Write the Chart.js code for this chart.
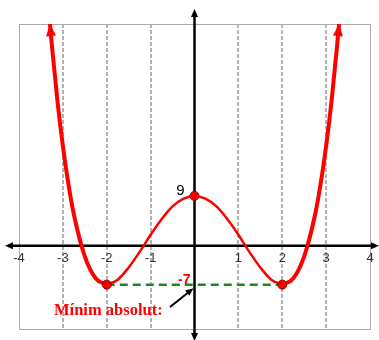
<!DOCTYPE html>
<html>
<head>
<meta charset="utf-8">
<script src="https://cdn.jsdelivr.net/npm/chart.js@4/dist/chart.umd.min.js"></script>
<style>
  html, body { margin: 0; padding: 0; background: #fff; }
  canvas { display: block; }
</style>
</head>
<body>
<canvas id="c" width="379" height="340"></canvas>
<script>
// f(x) = x^4 - 8x^2 + 9, sampled along the plotted curve
const leftX  = [-3.295, -3.25, -3.125, -3, -2.875, -2.75, -2.5, -2.25, -2];
const leftY  = [40, 36.1, 26.2, 18, 11.2, 5.7, -1.9, -5.9, -7];
const midX   = [-2, -1.75, -1.5, -1.25, -1, -0.75, -0.5, -0.25, 0, 0.25, 0.5, 0.75, 1, 1.25, 1.5, 1.75, 2];
const midY   = [-7, -6.1, -3.9, -1.1, 2, 4.8, 7.1, 8.5, 9, 8.5, 7.1, 4.8, 2, -1.1, -3.9, -6.1, -7];
const rightX = [2, 2.25, 2.5, 2.75, 2.875, 3, 3.125, 3.25, 3.295];
const rightY = [-7, -5.9, -1.9, 5.7, 11.2, 18, 26.2, 36.1, 40];

// marked points: local maximum and the two absolute minima
const keyX = [-2, 0, 2];
const keyY = [-7, 9, -7];

// horizontal guide at the minimum value
const minGuideX = [-2, 2];
const minGuideY = [-7, -7];

const xTickValues = [-4, -3, -2, -1, 1, 2, 3, 4];
const xTickLabels = ['-4', '-3', '-2', '-1', '1', '2', '3', '4'];
const gridValues  = [-3, -2, -1, 1, 2, 3];

const maxLabel = '9';
const minValueLabel = '-7';
const minCaption = 'Mínim absolut:';

const pts = (xs, ys) => xs.map((x, i) => ({ x: x, y: ys[i] }));

function arrowHead(ctx, tipX, tipY, fromX, fromY, len, half, color) {
  const a = Math.atan2(tipY - fromY, tipX - fromX);
  ctx.save();
  ctx.fillStyle = color;
  ctx.beginPath();
  ctx.moveTo(tipX, tipY);
  ctx.lineTo(tipX - len * Math.cos(a) + half * Math.sin(a), tipY - len * Math.sin(a) - half * Math.cos(a));
  ctx.lineTo(tipX - len * Math.cos(a) - half * Math.sin(a), tipY - len * Math.sin(a) + half * Math.cos(a));
  ctx.closePath();
  ctx.fill();
  ctx.restore();
}

const overlay = {
  id: 'overlay',
  beforeDatasetsDraw(chart) {
    const ctx = chart.ctx;
    const xs = chart.scales.x, ys = chart.scales.y;
    const a = chart.chartArea;
    ctx.save();

    // dashed vertical grid
    ctx.strokeStyle = '#999';
    ctx.lineWidth = 1.5;
    ctx.setLineDash([4, 2]);
    gridValues.forEach(v => {
      const px = Math.round(xs.getPixelForValue(v));
      ctx.beginPath();
      ctx.moveTo(px, a.top);
      ctx.lineTo(px, a.bottom);
      ctx.stroke();
    });
    ctx.setLineDash([]);

    // frame
    ctx.strokeStyle = '#aaa';
    ctx.lineWidth = 1;
    ctx.strokeRect(Math.round(a.left) + 0.5, Math.round(a.top) + 0.5,
                   Math.round(a.right - a.left), Math.round(a.bottom - a.top));

    // coordinate axes
    const x0 = xs.getPixelForValue(0);
    const y0 = ys.getPixelForValue(0);
    ctx.strokeStyle = '#000';
    ctx.lineWidth = 2.5;
    ctx.beginPath();
    ctx.moveTo(10, y0);
    ctx.lineTo(374, y0);
    ctx.stroke();
    ctx.beginPath();
    ctx.moveTo(x0, 16);
    ctx.lineTo(x0, 334);
    ctx.stroke();
    arrowHead(ctx, 5, y0, 20, y0, 8, 3.5, '#000');
    arrowHead(ctx, 379, y0, 360, y0, 8, 3.5, '#000');
    arrowHead(ctx, x0, 9, x0, 30, 8, 3.5, '#000');
    arrowHead(ctx, x0, 341, x0, 320, 8, 3.5, '#000');

    // x tick labels under the axis
    ctx.fillStyle = '#333';
    ctx.font = '13px "Liberation Sans", Arial, sans-serif';
    ctx.textAlign = 'center';
    ctx.textBaseline = 'middle';
    xTickValues.forEach((v, i) => {
      ctx.fillText(xTickLabels[i], xs.getPixelForValue(v), y0 + 13);
    });
    ctx.restore();
  },
  afterDatasetsDraw(chart) {
    const ctx = chart.ctx;
    const xs = chart.scales.x, ys = chart.scales.y;
    ctx.save();

    // arrowheads at the open ends of the curve
    const l0 = { x: xs.getPixelForValue(leftX[0]), y: ys.getPixelForValue(leftY[0]) };
    const l1 = { x: xs.getPixelForValue(leftX[1]), y: ys.getPixelForValue(leftY[1]) };
    arrowHead(ctx, l0.x, l0.y, l1.x, l1.y, 12, 5, '#ff0000');
    const n = rightX.length;
    const r0 = { x: xs.getPixelForValue(rightX[n - 1]), y: ys.getPixelForValue(rightY[n - 1]) };
    const r1 = { x: xs.getPixelForValue(rightX[n - 2]), y: ys.getPixelForValue(rightY[n - 2]) };
    arrowHead(ctx, r0.x, r0.y, r1.x, r1.y, 12, 5, '#ff0000');

    // value labels
    const x0 = xs.getPixelForValue(0);
    ctx.fillStyle = '#000';
    ctx.font = '15px "Liberation Sans", Arial, sans-serif';
    ctx.textAlign = 'right';
    ctx.textBaseline = 'alphabetic';
    ctx.fillText(maxLabel, x0 - 10, ys.getPixelForValue(9) - 1);

    ctx.fillStyle = '#ff0000';
    ctx.font = 'bold 14px "Liberation Sans", Arial, sans-serif';
    ctx.fillText(minValueLabel, x0 - 4, ys.getPixelForValue(-7) - 1);

    ctx.font = 'bold 16.5px "Liberation Serif", "Times New Roman", serif';
    ctx.textAlign = 'left';
    ctx.fillText(minCaption, 54, 315);

    // pointer from the caption to the minimum value on the y axis
    const tip = { x: x0 - 1, y: ys.getPixelForValue(-7) + 3.5 };
    const tail = { x: 170, y: 307 };
    ctx.strokeStyle = '#000';
    ctx.lineWidth = 2;
    ctx.beginPath();
    ctx.moveTo(tail.x, tail.y);
    ctx.lineTo(tip.x - 4, tip.y + 3.3);
    ctx.stroke();
    arrowHead(ctx, tip.x, tip.y, tail.x, tail.y, 8, 3.5, '#000');
    ctx.restore();
  }
};

const curveBase = {
  type: 'line',
  borderColor: '#ff0000',
  pointRadius: 0,
  fill: false,
  cubicInterpolationMode: 'monotone'
};

new Chart(document.getElementById('c'), {
  type: 'scatter',
  data: {
    datasets: [
      {
        data: pts(keyX, keyY),
        showLine: false,
        pointRadius: 4.5,
        pointHoverRadius: 4.5,
        pointBackgroundColor: '#ff0000',
        pointBorderColor: '#7a0000',
        pointBorderWidth: 1
      },
      Object.assign({}, curveBase, { data: pts(leftX, leftY), borderWidth: 4 }),
      Object.assign({}, curveBase, { data: pts(midX, midY), borderWidth: 2.5 }),
      Object.assign({}, curveBase, { data: pts(rightX, rightY), borderWidth: 4 }),
      {
        type: 'line',
        data: pts(minGuideX, minGuideY),
        borderColor: '#1a8a1a',
        borderWidth: 2.5,
        borderDash: [8, 5],
        pointRadius: 0,
        fill: false
      }
    ]
  },
  options: {
    responsive: false,
    animation: false,
    events: [],
    layout: { padding: { left: 19, top: 24, right: 9, bottom: 11 } },
    plugins: { legend: { display: false }, tooltip: { enabled: false } },
    scales: {
      x: { type: 'linear', min: -4, max: 4, display: false },
      y: { type: 'linear', min: -15, max: 40, display: false }
    }
  },
  plugins: [overlay]
});
</script>
</body>
</html>
